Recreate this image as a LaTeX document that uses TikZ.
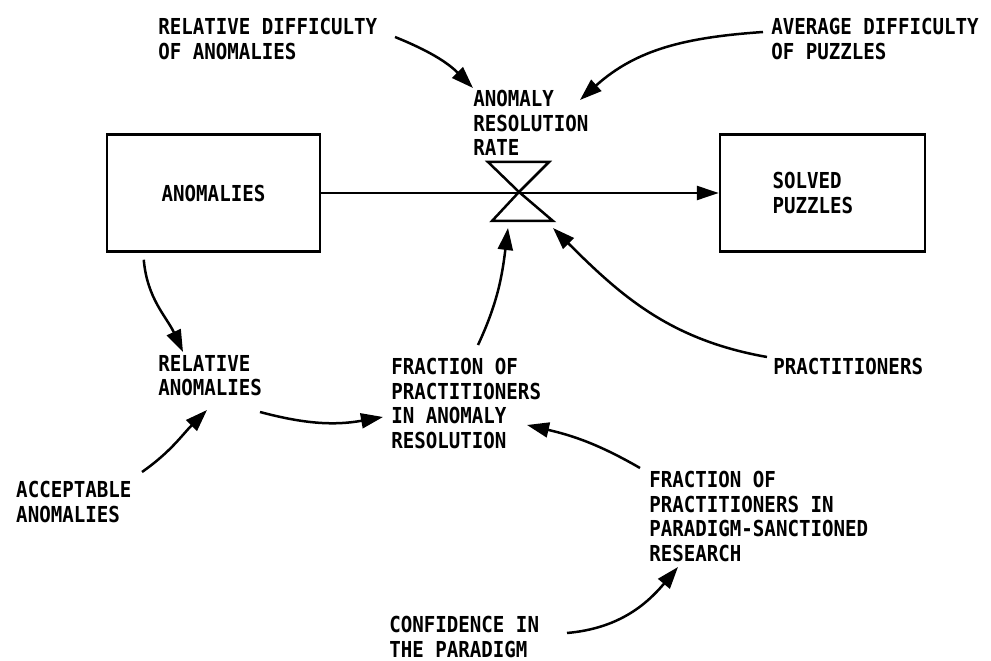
\documentclass[tikz,border=0pt]{standalone}
\usepackage{fontspec}
\newfontfamily\sdfont{DejaVu Sans Mono}[FakeStretch=0.87]
\usepackage{tikz}
\usetikzlibrary{arrows.meta}

\begin{document}
\begin{tikzpicture}[x=1pt,y=1pt,line width=2.5pt,
  lbl/.style={inner sep=0pt,anchor=north west,align=left,font=\sdfont\bfseries\fontsize{22}{24.5}\selectfont},
  stock/.style={draw,rectangle,inner sep=0pt,minimum height=117pt,align=left,font=\sdfont\bfseries\fontsize{22}{24.5}\selectfont},
  link/.style={-{Triangle[length=22pt,width=15pt]}}]
  \useasboundingbox (0,0) rectangle (991,661);

  \node (anomalies) at (213.5,468)[stock,minimum width=213pt]{ANOMALIES};
  \node (solved) at (822.5,468)[stock,text width=100pt,inner xsep=52.5pt]{SOLVED\\PUZZLES};
  \coordinate (valve) at (519,469);

  \node (reldiff) at (157,644)[lbl]{RELATIVE DIFFICULTY\\OF ANOMALIES};
  \node (avgdiff) at (770,644)[lbl]{AVERAGE DIFFICULTY\\OF PUZZLES};
  \node (rate) at (472,572)[lbl]{ANOMALY\\RESOLUTION\\RATE};
  \node (pract) at (772,304)[lbl]{PRACTITIONERS};
  \node (relanom) at (157,307)[lbl]{RELATIVE\\ANOMALIES};
  \node (fracanom) at (390,304)[lbl]{FRACTION OF\\PRACTITIONERS\\IN ANOMALY\\RESOLUTION};
  \node (accept) at (15,181)[lbl]{ACCEPTABLE\\ANOMALIES};
  \node (fracpar) at (648,191)[lbl]{FRACTION OF\\PRACTITIONERS IN\\PARADIGM-SANCTIONED\\RESEARCH};
  \node (confid) at (388,46)[lbl]{CONFIDENCE IN\\THE PARADIGM};

  \draw[-{Triangle[length=22pt,width=14pt]}](anomalies.east)--(solved.west);
  \draw(valve)--++(-31,30)--++(61,0)--cycle;
  \draw(valve)--++(-27,-29)--++(61,0)--cycle;

  \draw[link]([shift={(238,-20)}]reldiff.north west) to[out=-22,in=135] ([shift={(1,1)}]rate.north west);
  \draw[link]([shift={(-7,-15)}]avgdiff.north west) to[out=184,in=42] ([shift={(108,-11)}]rate.north west);
  \draw[link]([shift={(-5,0)}]pract.north west) to[out=170,in=-45] ([shift={(34,-36)}]valve);
  \draw[link]([shift={(88,12)}]fracanom.north west) to[out=65,in=-97] ([shift={(-11,-36)}]valve);
  \draw[link]([shift={(38,-7)}]anomalies.south west) to[out=-85,in=115] ([shift={(26,2)}]relanom.north west);
  \draw[link]([shift={(103,-58)}]relanom.north west) to[out=-15,in=190] ([shift={(-7,-60)}]fracanom.north west);
  \draw[link]([shift={(127,8)}]accept.north west) to[out=35,in=225] ([shift={(50,-56)}]relanom.north west);
  \draw[link]([shift={(-8,2)}]fracpar.north west) to[out=150,in=-13] ([shift={(137,-68)}]fracanom.north west);
  \draw[link]([shift={(179,-18)}]confid.north west) to[out=5,in=230] ([shift={(30,-97)}]fracpar.north west);
\end{tikzpicture}
\end{document}
